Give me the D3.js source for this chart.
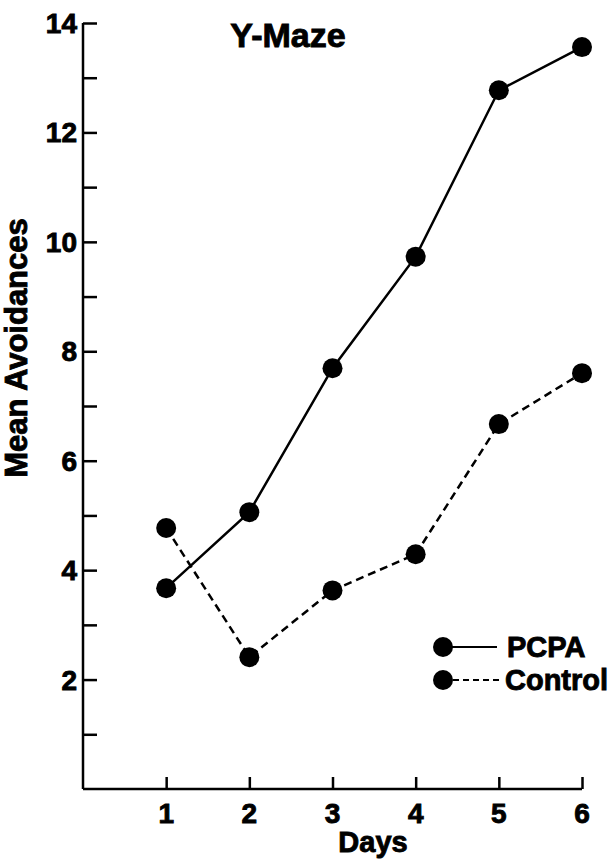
<!DOCTYPE html>
<html>
<head>
  <meta charset="utf-8">
  <script src="https://d3js.org/d3.v7.min.js"></script>
  <style>
    body { margin: 0; background: #fff; }
    text { font-family: "Liberation Sans", Arial, sans-serif; font-weight: bold; fill: #000;
           stroke: #000; stroke-width: 0.9px; }
  </style>
</head>
<body>
<script>
  // data
  var days = [1, 2, 3, 4, 5, 6];
  var pcpa = [3.67, 5.06, 7.69, 9.73, 12.77, 13.56];
  var control = [4.77, 2.41, 3.63, 4.29, 6.67, 7.6];
  var yTicks = [2, 4, 6, 8, 10, 12, 14];
  var yMinor = [1, 3, 5, 7, 9, 11, 13];
  var seriesNames = ["PCPA", "Control"];

  var width = 615, height = 863;

  var svg = d3.select("body").append("svg")
      .attr("width", width)
      .attr("height", height);

  var x = d3.scaleLinear().domain([0, 6]).range([83, 582]);
  var y = d3.scaleLinear().domain([0, 14]).range([789, 23]);

  // axes
  var yAxis = svg.append("g")
      .attr("transform", "translate(" + x(0) + ",0)")
      .call(d3.axisRight(y).tickValues(yTicks.concat(yMinor)).tickSize(14).tickFormat(""));
  yAxis.select(".domain").attr("d", "M0," + y(0) + "V" + y(14));
  yAxis.selectAll("line, path").attr("stroke", "#000").attr("stroke-width", 2.5);

  var xAxis = svg.append("g")
      .attr("transform", "translate(0," + y(0) + ")")
      .call(d3.axisTop(x).tickValues(days).tickSize(12).tickFormat(""));
  xAxis.select(".domain").attr("d", "M" + x(0) + ",0H" + x(6));
  xAxis.selectAll("line, path").attr("stroke", "#000").attr("stroke-width", 2.5);

  // tick labels
  svg.selectAll(".ylab").data(yTicks).enter().append("text")
      .attr("x", 77)
      .attr("y", function (d) { return y(d) + 10; })
      .attr("text-anchor", "end")
      .style("font-size", "28px")
      .text(function (d) { return d; });

  svg.selectAll(".xlab").data(days).enter().append("text")
      .attr("x", function (d) { return x(d); })
      .attr("y", 823)
      .attr("text-anchor", "middle")
      .style("font-size", "28px")
      .text(function (d) { return d; });

  // titles
  svg.append("text")
      .attr("x", 288).attr("y", 47)
      .attr("text-anchor", "middle")
      .style("font-size", "34px")
      .text("Y-Maze");

  svg.append("text")
      .attr("x", 373).attr("y", 852)
      .attr("text-anchor", "middle")
      .style("font-size", "29px")
      .text("Days");

  svg.append("text")
      .attr("transform", "translate(27,348) rotate(-90)")
      .attr("text-anchor", "middle")
      .style("font-size", "31px")
      .text("Mean Avoidances");

  // lines
  var line = d3.line()
      .x(function (d) { return x(d[0]); })
      .y(function (d) { return y(d[1]); });

  var series = [
    { name: seriesNames[0], values: d3.zip(days, pcpa), dash: null },
    { name: seriesNames[1], values: d3.zip(days, control), dash: "8,5" }
  ];

  series.forEach(function (s) {
    svg.append("path")
        .datum(s.values)
        .attr("d", line)
        .attr("fill", "none")
        .attr("stroke", "#000")
        .attr("stroke-width", 2.5)
        .attr("stroke-dasharray", s.dash);

    svg.selectAll(null).data(s.values).enter().append("circle")
        .attr("cx", function (d) { return x(d[0]); })
        .attr("cy", function (d) { return y(d[1]); })
        .attr("r", 10)
        .attr("fill", "#000");
  });

  // legend
  var legend = svg.append("g");
  var legendY = [647, 680];
  series.forEach(function (s, i) {
    var g = legend.append("g").attr("transform", "translate(443," + legendY[i] + ")");
    g.append("line")
        .attr("x1", 0).attr("x2", i === 0 ? 54 : 60)
        .attr("stroke", "#000")
        .attr("stroke-width", 2)
        .attr("stroke-dasharray", i === 0 ? null : "6,4");
    g.append("circle").attr("r", 10).attr("fill", "#000");
    g.append("text")
        .attr("x", i === 0 ? 64 : 62)
        .attr("y", 10)
        .style("font-size", "29px")
        .text(s.name);
  });
</script>
</body>
</html>
